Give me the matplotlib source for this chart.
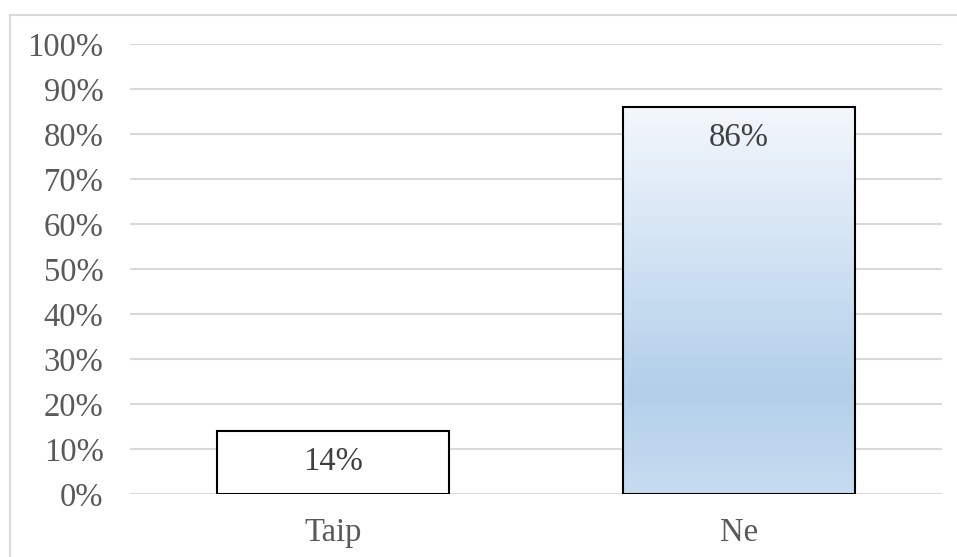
import numpy as np
import matplotlib
matplotlib.use("Agg")
import matplotlib.pyplot as plt
from matplotlib.patches import Rectangle
from matplotlib.colors import LinearSegmentedColormap

categories = ["Taip", "Ne"]
values = [0.14, 0.86]
yticks = [0.0, 0.1, 0.2, 0.3, 0.4, 0.5, 0.6, 0.7, 0.8, 0.9, 1.0]
ytick_labels = ["0%", "10%", "20%", "30%", "40%", "50%", "60%", "70%", "80%", "90%", "100%"]
labels = ["14%", "86%"]

plt.rcParams['font.family'] = ['Liberation Serif', 'DejaVu Serif']

W, H = 957, 557
fig = plt.figure(figsize=(W / 100, H / 100), dpi=100)
ax = fig.add_axes([130 / W, (H - 494) / H, 812 / W, 450 / H])

x = np.arange(len(categories))
bars = ax.bar(x, values, width=0.571, color="white", edgecolor="black",
              linewidth=1.5, zorder=3)

# gradient fill for the "Ne" bar
cmap = LinearSegmentedColormap.from_list(
    "g", [(0.0, "#c6dcf0"), (0.27, "#b2cfea"), (1.0, "#f3f7fc")])
b = bars[1]
bx0, bw, bh = b.get_x(), b.get_width(), b.get_height()
grad = np.linspace(0, 1, 256).reshape(-1, 1)
im = ax.imshow(grad, cmap=cmap, origin="lower", aspect="auto",
               extent=[bx0, bx0 + bw, 0, bh], zorder=3.5)
im.set_clip_path(b)
b.set_facecolor("none")
b.set_zorder(4)

ax.set_xlim(-0.5, 1.5)
ax.set_ylim(0, 1.0)
ax.set_yticks(yticks)
ax.set_yticklabels(ytick_labels)
ax.set_xticks(x)
ax.set_xticklabels(categories)
ax.tick_params(axis="both", length=0, labelsize=23.5, labelcolor="#595959")
ax.tick_params(axis="y", pad=19)
ax.tick_params(axis="x", pad=17)
ax.yaxis.grid(True, color="#d9d9d9", linewidth=1.5, zorder=0)
ax.set_axisbelow(True)
for s in ax.spines.values():
    s.set_visible(False)

for xi, v, lab in zip(x, values, labels):
    ax.annotate(lab, (xi, v), xytext=(0, -22), textcoords="offset points",
                ha="center", va="center", fontsize=23.5, color="#404040", zorder=6)

# outer chart border (partly cropped)
fig.patches.append(Rectangle((10 / W, -0.1), 1.2, (H - 15) / H + 0.1,
                             transform=fig.transFigure, fill=False,
                             edgecolor="#d9d9d9", linewidth=1.5, zorder=0))

fig.savefig("out.png", dpi=100)
